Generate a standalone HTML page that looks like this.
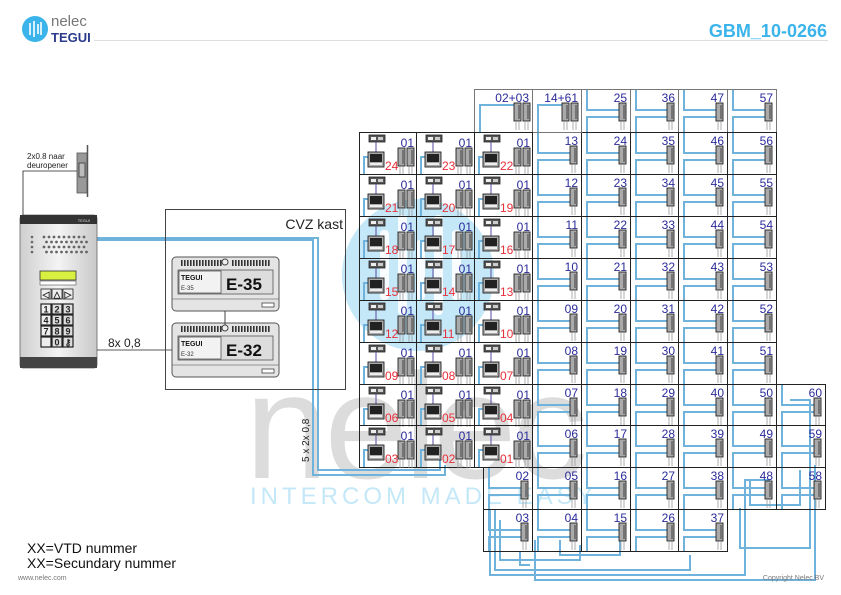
<!DOCTYPE html>
<html><head><meta charset="utf-8">
<style>
html,body{margin:0;padding:0;background:#fff;}
svg{display:block;}
text{font-family:"Liberation Sans",sans-serif;}
</style></head>
<body>
<svg id="s" width="841" height="595" viewBox="0 0 841 595" xmlns="http://www.w3.org/2000/svg">
<circle cx="418" cy="275" r="76" fill="#c4e8f8"/>
<g fill="#fff" opacity="0.9">
<rect x="380" y="230" width="9" height="70" rx="4"/>
<rect x="398" y="215" width="9" height="100" rx="4"/>
<rect x="416" y="240" width="9" height="60" rx="4"/>
<rect x="434" y="215" width="9" height="100" rx="4"/>
<rect x="452" y="230" width="9" height="70" rx="4"/>
</g>
<text x="245" y="478" font-size="150" fill="#dcdcdc" style="letter-spacing:-4px">nelec</text>
<text x="250" y="504" font-size="24" fill="#c4e8f8" style="letter-spacing:4px">INTERCOM MADE EASY</text>

<circle cx="35" cy="29" r="13" fill="#3ab4ea"/>
<g stroke="#fff" stroke-width="1.6"><line x1="30" y1="23" x2="30" y2="35"/><line x1="34" y1="21" x2="34" y2="37"/><line x1="38" y1="24" x2="38" y2="34"/><line x1="41" y1="22" x2="41" y2="35"/></g>
<text x="51" y="26" font-size="15" fill="#777">nelec</text>
<text x="51" y="42" font-size="13" font-weight="bold" fill="#2a3a8c" font-family="Liberation Serif">TEGUI</text>
<line x1="94" y1="40.5" x2="828" y2="40.5" stroke="#ddd" stroke-width="1"/>
<text x="827" y="37" font-size="18" font-weight="bold" fill="#3ab4ea" text-anchor="end">GBM_10-0266</text>

<text x="27" y="159" font-size="8" fill="#222">2x0.8 naar</text>
<text x="27" y="168" font-size="8" fill="#222">deuropener</text>
<polyline points="23,216 23,171 78,171" fill="none" stroke="#222" stroke-width="0.8"/>
<rect x="77" y="153" width="10" height="40" fill="#999" stroke="#555" stroke-width="0.8"/>
<line x1="87.5" y1="145" x2="87.5" y2="197" stroke="#555" stroke-width="1.5"/>
<rect x="79" y="163" width="6" height="14" fill="#bbb" stroke="#333" stroke-width="0.8"/>

<g fill="none" stroke="#6fb3dc" stroke-width="2">
<polyline points="97,238 318,238 318,470 440,470 440,458"/>
<polyline points="97,240 313,240 313,475 445,475 445,465"/>
</g>

<defs><linearGradient id="pg" x1="0" x2="1"><stop offset="0" stop-color="#cfcfcf"/><stop offset="0.5" stop-color="#f4f4f4"/><stop offset="1" stop-color="#c8c8c8"/></linearGradient></defs>
<rect x="20" y="215" width="77" height="153" rx="3" fill="url(#pg)" stroke="#666" stroke-width="0.8"/>
<rect x="20" y="215" width="77" height="9" fill="#333"/>
<text x="90" y="222" font-size="4" fill="#ddd" text-anchor="end">TEGUI</text>
<rect x="20" y="357" width="77" height="11" fill="#444"/>
<g fill="#666" id="grille"></g>
<rect x="40" y="271" width="36" height="9" fill="#d8f040" stroke="#333" stroke-width="0.8"/>
<rect x="40" y="281" width="36" height="4" fill="#fff" stroke="#333" stroke-width="0.5"/>
<g id="keys"></g>
<line x1="97" y1="350" x2="175" y2="350" stroke="#222" stroke-width="0.8"/>
<text x="108" y="347" font-size="12" fill="#222">8x 0,8</text>

<rect x="165.5" y="209.5" width="180" height="180" fill="none" stroke="#444" stroke-width="1"/>
<text x="343" y="229" font-size="14" fill="#222" text-anchor="end">CVZ kast</text>
<g id="mods"></g>
<line x1="225" y1="311" x2="225" y2="325" stroke="#444" stroke-width="1"/>

<text transform="translate(309,462) rotate(-90)" font-size="10" fill="#222">5 x 2x 0,8</text>

<g id="grid"></g>

<text x="27" y="553" font-size="14" fill="#111">XX=VTD nummer</text>
<text x="27" y="568" font-size="14" fill="#111">XX=Secundary nummer</text>
<text x="18" y="580" font-size="7" fill="#777">www.nelec.com</text>
<text x="824" y="580" font-size="7" fill="#777" text-anchor="end">Copyright Nelec BV</text>
</svg>
<script>
var NS="http://www.w3.org/2000/svg";
function el(p,t,a,txt){var e=document.createElementNS(NS,t);for(var k in a)e.setAttribute(k,a[k]);if(txt!=null)e.textContent=txt;p.appendChild(e);return e;}
var g=document.getElementById('grille');
for(var r=0;r<4;r++){el(g,'circle',{cx:32,cy:237+r*5,r:1.3});for(var c=0;c<9;c++)el(g,'circle',{cx:44+c*5+(r%2)*2.5,cy:237+r*5,r:1.4});}
var k=document.getElementById('keys');
var ks=[["◁","△","▷"],["1","2","3"],["4","5","6"],["7","8","9"],["","0","⚷"]];
for(var r=0;r<5;r++)for(var c=0;c<3;c++){var x=41+c*11,y=289+r*11+(r>0?4:0);el(k,'rect',{x:x,y:y,width:10,height:10,fill:r>0&&c>0?"#ddd":"#eee",stroke:"#222","stroke-width":r>0?1.2:0.8});el(k,'text',{x:x+5,y:y+8.5,"font-size":9,"font-weight":"bold","text-anchor":"middle",fill:"#222"},ks[r][c]);}
var m=document.getElementById('mods');
[[257,"E-35"],[323,"E-32"]].forEach(function(d){var y=d[0];
el(m,'rect',{x:172,y:y,width:107,height:54,rx:4,fill:"#e4e4e4",stroke:"#555","stroke-width":1});
for(var i=0;i<30;i++){if(i>13&&i<17)continue;el(m,'rect',{x:181+i*3,y:y+3,width:1.6,height:6,fill:"#333"});}
el(m,'circle',{cx:225,cy:y+5,r:3,fill:"#eee",stroke:"#444"});
el(m,'rect',{x:178,y:y+13,width:95,height:24,fill:"#ddd",stroke:"#555","stroke-width":0.8});
el(m,'rect',{x:179,y:y+14,width:42,height:22,fill:"#f2f2f2",stroke:"#555","stroke-width":0.8});
el(m,'text',{x:181,y:y+23,"font-size":7,"font-weight":"bold","font-family":"Liberation Serif",fill:"#111"},"TEGUI");
el(m,'text',{x:181,y:y+33,"font-size":6,fill:"#333"},d[1]);
el(m,'text',{x:244,y:y+33,"font-size":17,"font-weight":"bold","text-anchor":"middle",fill:"#111"},d[1]);
el(m,'line',{x1:172,y1:y+42,x2:279,y2:y+42,stroke:"#777","stroke-width":0.8});
el(m,'rect',{x:262,y:y+46,width:12,height:4,fill:"#fff",stroke:"#444","stroke-width":0.8});
});
var G=document.getElementById('grid');
var blue="#6fb3dc";
var wires=el(G,'g',{fill:"none",stroke:blue,"stroke-width":2});
var cells=el(G,'g',{});
var rows=[89,132,174,216,258,300,342,384,425,467,509,551];
function handset(p,x,y){el(p,'rect',{x:x,y:y,width:7,height:18,fill:"#aaa",stroke:"#222","stroke-width":0.9});el(p,'line',{x1:x+5,y1:y+2,x2:x+5,y2:y+16,stroke:"#222","stroke-width":0.8});el(p,'line',{x1:x+2,y1:y+18,x2:x+2,y2:y+27,stroke:"#999","stroke-width":0.8});el(p,'line',{x1:x+5,y1:y+18,x2:x+5,y2:y+27,stroke:"#999","stroke-width":0.8});}
function rcell(x,w,r,lab){var y=rows[r],h=rows[r+1]-y;
el(cells,'rect',{x:x+0.5,y:y+0.5,width:w,height:h,fill:"none",stroke:r==0?"#777":"#222","stroke-width":1});
el(wires,'polyline',{points:(x+6)+","+(y)+" "+(x+6)+","+(y+21)+" "+(x+w-11)+","+(y+21)});
el(wires,'polyline',{points:(x+w-11)+","+(y+28)+" "+(x+6)+","+(y+28)+" "+(x+6)+","+(y+h)});
handset(cells,x+w-11,y+14);
el(cells,'text',{x:x+w-3,y:y+13,"font-size":12,"text-anchor":"end",fill:"#2a2a9a"},lab);}
var cx=[532,581,630,678,727,776,825];
var R=[["14+61","25","36","47","57"],["13","24","35","46","56"],["12","23","34","45","55"],["11","22","33","44","54"],["10","21","32","43","53"],["09","20","31","42","52"],["08","19","30","41","51"],["07","18","29","40","50","60"],["06","17","28","39","49","59"],["05","16","27","38","48","58"],["04","15","26","37"]];
R.forEach(function(row,r){row.forEach(function(l,i){if(r==0&&i==0)return;rcell(cx[i],cx[i+1]?cx[i+1]-cx[i]:49,r,l);});});
(function(){el(cells,'rect',{x:474.5,y:89.5,width:58,height:43,fill:"none",stroke:"#777"});el(wires,'polyline',{points:"480,132 480,105 514,105"});handset(cells,514,103);handset(cells,523,103);el(cells,'text',{x:529,y:102,"font-size":12,"text-anchor":"end",fill:"#2a2a9a"},"02+03");
el(cells,'rect',{x:532.5,y:89.5,width:49,height:43,fill:"none",stroke:"#777"});el(wires,'polyline',{points:"538,132 538,105 562,105"});handset(cells,562,103);handset(cells,571,103);el(cells,'text',{x:578,y:102,"font-size":12,"text-anchor":"end",fill:"#2a2a9a"},"14+61");})();
rcell(483,49,9,"02");rcell(483,49,10,"03");
var L=[["24","23","22"],["21","20","19"],["18","17","16"],["15","14","13"],["12","11","10"],["09","08","07"],["06","05","04"],["03","02","01"]];
var lx=[359,416,474];
L.forEach(function(row,r){row.forEach(function(l,i){var x=lx[i],y=rows[r+1],w=(i==0?57:58),h=rows[r+2]-y;
el(cells,'rect',{x:x+0.5,y:y+0.5,width:w,height:h,fill:"none",stroke:"#222"});
el(wires,'polyline',{points:(x+5)+","+(y+h)+" "+(x+5)+","+(y+25)+" "+(x+9)+","+(y+25)});
el(cells,'rect',{x:x+10,y:y+3,width:16,height:7,fill:"#555",stroke:"#222","stroke-width":0.8});
el(cells,'rect',{x:x+12,y:y+5,width:5,height:3,fill:"#eee"});el(cells,'rect',{x:x+19,y:y+5,width:5,height:3,fill:"#ccc"});
el(cells,'line',{x1:x+17,y1:y+10,x2:x+17,y2:y+20,stroke:"#5a4aa0","stroke-width":1});
el(cells,'rect',{x:x+9,y:y+20,width:16,height:15,fill:"#aaa",stroke:"#222","stroke-width":0.9});
el(cells,'rect',{x:x+11,y:y+22,width:12,height:8,fill:"#222"});
el(cells,'rect',{x:x+11,y:y+31,width:12,height:2,fill:"#eee"});
handset(cells,x+w-18,y+16);handset(cells,x+w-9,y+16);
el(cells,'text',{x:x+w-2,y:y+15,"font-size":12,"text-anchor":"end",fill:"#2a2a9a"},"01");
el(cells,'text',{x:x+26,y:y+38,"font-size":12,fill:"#e8303a"},l);
});});
[["490,509 490,575 745,575 745,480 770,480"],["495,509 495,570 690,570 690,555"],["520,551 520,565 530,565"],["500,520 500,560 580,560 580,545"],["560,540 560,555 620,555 620,530"],["740,508 740,548 810,548 810,400 790,400"],["750,480 750,505 800,505 800,470"],["535,540 535,580 815,580 815,465"]].forEach(function(p){el(wires,'polyline',{points:p[0]});});
</script>
</body></html>
